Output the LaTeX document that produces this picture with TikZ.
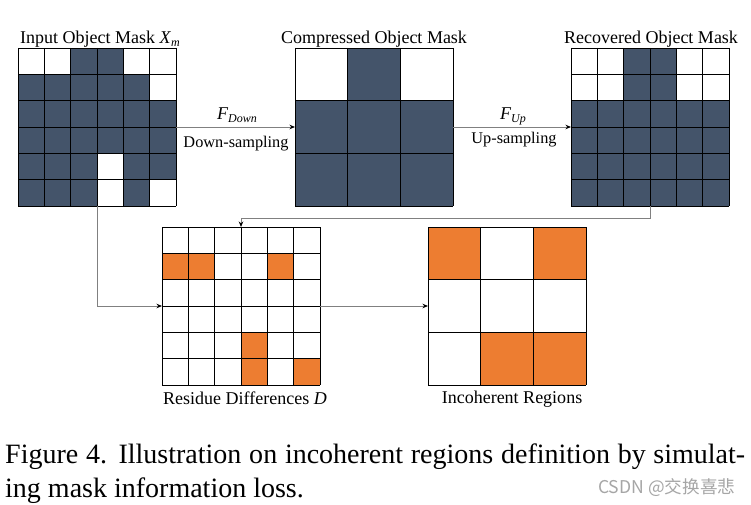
\documentclass[tikz,border=0pt]{standalone}
\usepackage{fontspec}
\setmainfont{Liberation Serif}
\newfontfamily\cjk{Noto Sans CJK SC}
\usetikzlibrary{arrows.meta}
\definecolor{mdark}{HTML}{44546A}
\definecolor{morange}{HTML}{ED7D31}
\definecolor{wmark}{HTML}{A6A6A6}
\newcommand\mgrid[7]{%
 \begin{scope}[shift={(#2,#3)}]
  \pgfmathsetmacro\mcell{158/#4}
  \fill[#5] (0,0) rectangle (158,158);
  \foreach \c/\r in {#6} \fill[#7] (\c*\mcell,\r*\mcell) rectangle ++(\mcell,\mcell);
  \foreach \i in {0,...,#4} {\draw[gridline] (\i*\mcell,0) -- (\i*\mcell,158); \draw[gridline] (0,\i*\mcell) -- (158,\i*\mcell);}
 \end{scope}
 \node[gridbox, anchor=north west] (#1) at (#2,#3) {};}
\newcommand\subtxt[1]{\raisebox{-3pt}{\fontsize{12}{12}\selectfont\textit{#1}}}
\begin{document}
\begin{tikzpicture}[x=1pt,y=-1pt,
  gridline/.style={draw=black, line width=0.8pt},
  gridbox/.style={minimum width=158pt, minimum height=158pt, inner sep=0pt, outer sep=0pt},
  lab/.style={anchor=base, inner sep=0pt, font=\fontsize{18}{20}\selectfont},
  alab/.style={anchor=base, inner sep=0pt, font=\fontsize{16.3}{18}\selectfont},
  conn/.style={draw=black!50, line width=0.9pt, -{Stealth[length=5.5pt,width=4.5pt,black]}},
  captext/.style={anchor=base west, inner sep=0pt, font=\fontsize{28}{30}\selectfont}]
\useasboundingbox (0,0) rectangle (751,505);
\fill[white] (0,0) rectangle (751,505);
\mgrid{in}{18}{48}{6}{mdark}{0/0,1/0,4/0,5/0,5/1,3/4,3/5,5/5}{white}
\mgrid{comp}{295}{48}{3}{mdark}{0/0,2/0}{white}
\mgrid{rec}{571}{48}{6}{mdark}{0/0,1/0,4/0,5/0,0/1,1/1,4/1,5/1}{white}
\mgrid{res}{162}{227}{6}{white}{0/1,1/1,4/1,3/4,3/5,5/5}{morange}
\mgrid{inc}{428}{227}{3}{white}{0/0,2/0,1/2,2/2}{morange}
% titles
\node[lab] (lin) at (100,43.5) {Input Object Mask \textit{X}\subtxt{m}};
\node[lab] (lcomp) at (374,43.5) {Compressed Object Mask};
\node[lab] (lrec) at (651,43.5) {Recovered Object Mask};
\node[lab] (lres) at (245,404) {Residue Differences \textit{D}};
\node[lab] (linc) at (512,403.5) {Incoherent Regions};
% arrows
\draw[conn] (in) -- (comp);
\draw[conn] (comp) -- (rec);
\node[lab] (fdown) at (237,119.5) {\textit{F}\subtxt{Down}};
\node[alab] (tdown) at (236,147) {Down-sampling};
\node[lab] (fup) at (513,119.5) {\textit{F}\subtxt{Up}};
\node[alab] (tup) at (514,143) {Up-sampling};
\draw[conn] (rec.south) -- ++(0,12) -| (res.north);
\draw[conn] (in.south) |- (res.west);
\draw[conn] (res) -- (inc);
% caption
\node[captext] (cap1) at (5,463) {\makebox[740pt][s]{Figure 4. Illustration on incoherent regions definition by simulat-}};
\node[captext] (cap2) at (5,497) {ing mask information loss.};
\node[anchor=base west, inner sep=0pt, text=wmark, font=\cjk\fontsize{17.6}{19}\selectfont] (wm) at (598,493) {CSDN @交换喜悲};
\end{tikzpicture}
\end{document}
